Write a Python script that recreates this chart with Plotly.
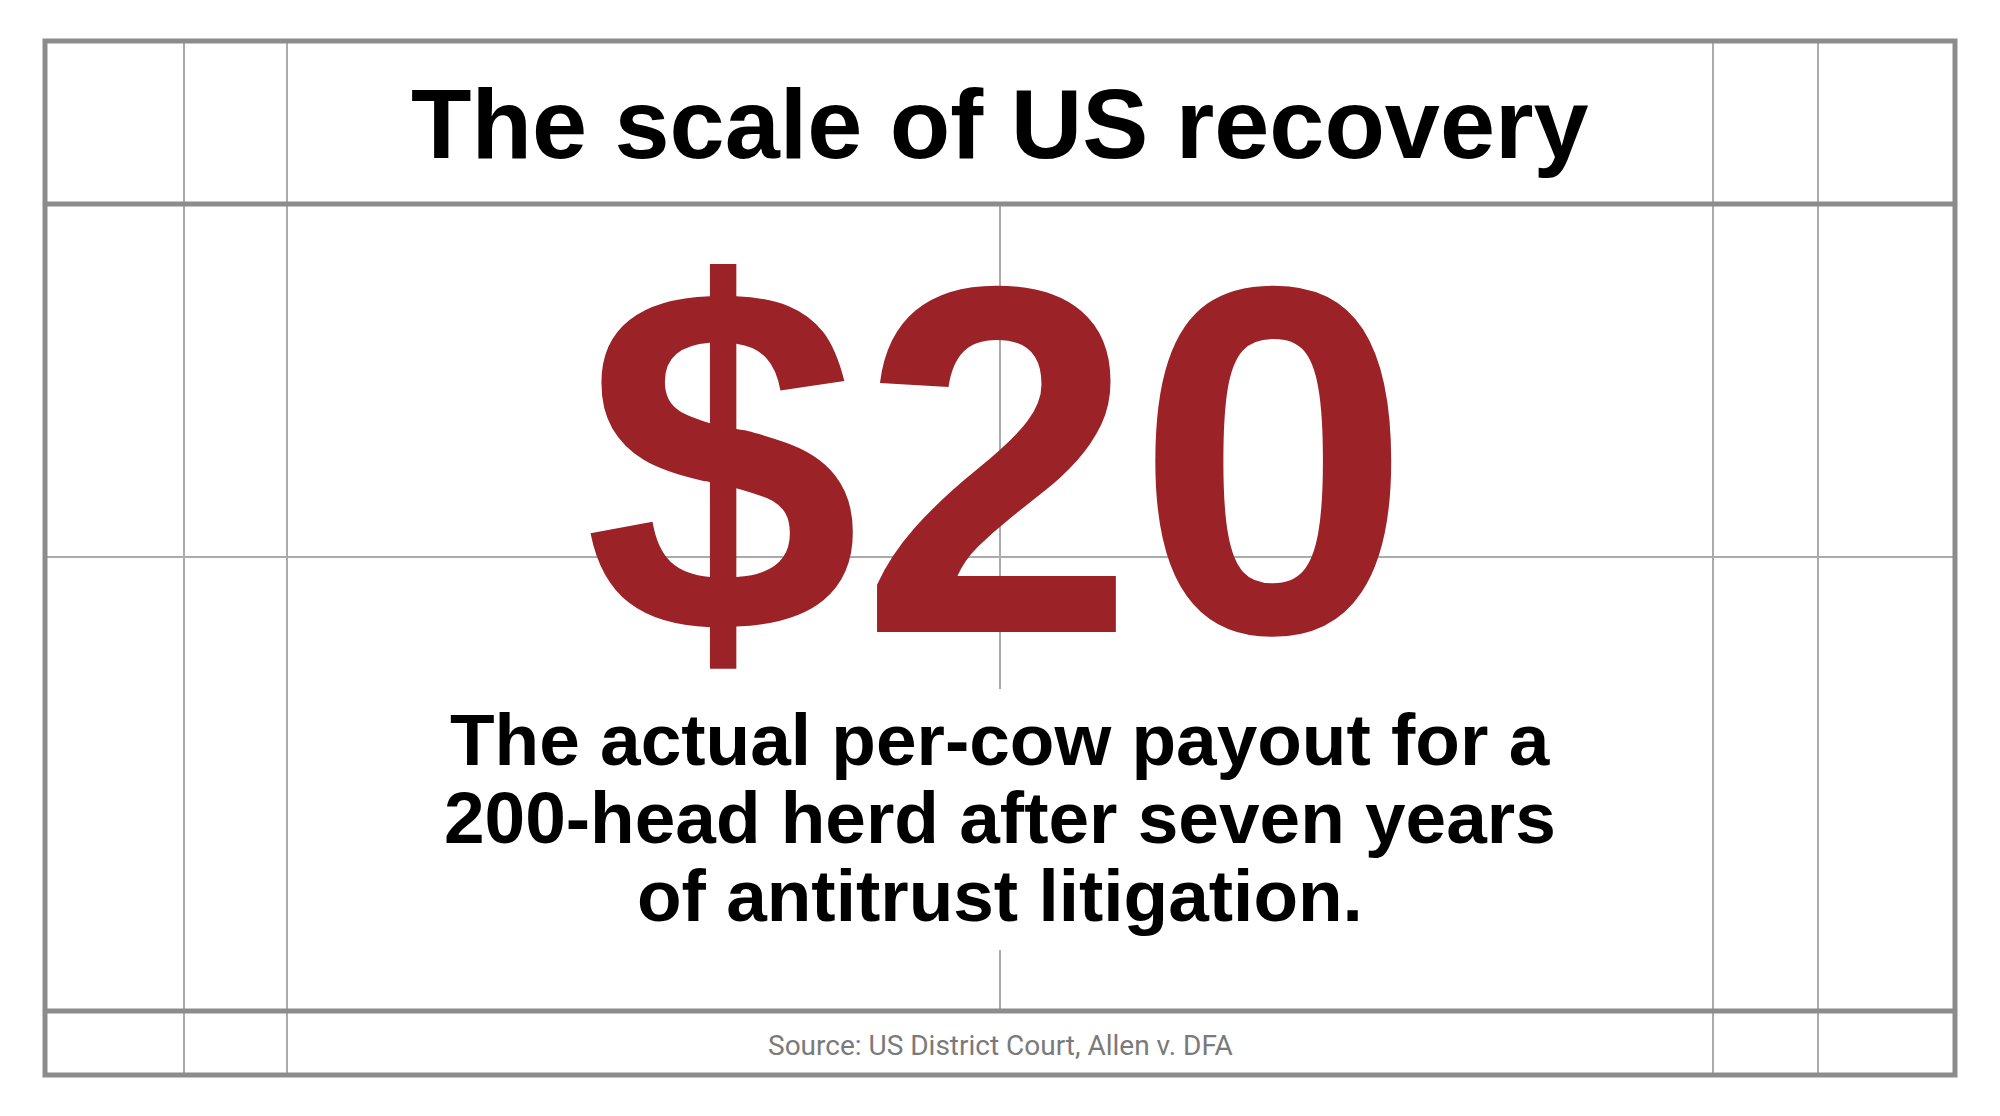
import plotly.graph_objects as go

# chart content
title_text = "The scale of US recovery"
payout_per_cow = 20
subtitle_lines = [
    "The actual per-cow payout for a",
    "200-head herd after seven years",
    "of antitrust litigation.",
]
source_text = "Source: US District Court, Allen v. DFA"

W, H = 2000, 1116
PAD = 8  # page body margin, keep the frame where the window puts it
THICK = "#8c8c8c"
THIN = "#ababab"
RED = "#9b2226"

fig = go.Figure()

# grid frame: (x0, y0, x1, y1, color, width)
frame_lines = [
    (184, 41, 184, 1075, THIN, 2),
    (287, 41, 287, 1075, THIN, 2),
    (1713, 41, 1713, 1075, THIN, 2),
    (1818, 41, 1818, 1075, THIN, 2),
    (1000, 204, 1000, 1011, THIN, 2),
    (45, 557, 1955, 557, THIN, 2),
    (45, 204, 1955, 204, THICK, 5),
    (45, 1011, 1955, 1011, THICK, 5),
]
for x0, y0, x1, y1, c, w in frame_lines:
    fig.add_shape(type="line", x0=x0, y0=y0, x1=x1, y1=y1,
                  line=dict(color=c, width=w), layer="above")
fig.add_shape(type="rect", x0=45, y0=41, x1=1955, y1=1075,
              line=dict(color=THICK, width=5), layer="above")
# white panel behind the subtitle
fig.add_shape(type="rect", x0=420, y0=689, x1=1580, y1=950,
              fillcolor="white", line=dict(width=0), layer="above")

fig.add_annotation(x=1000, y=123, text="<b>%s</b>" % title_text, showarrow=False,
                   font=dict(family="Liberation Sans", size=99, color="black"),
                   xanchor="center", yanchor="middle")

fig.add_annotation(x=998, y=460, text="<b>$%d</b>" % payout_per_cow, showarrow=False,
                   font=dict(family="Liberation Sans", size=496, color=RED),
                   xanchor="center", yanchor="middle")

for i, line in enumerate(subtitle_lines):
    fig.add_annotation(x=1000, y=739 + i * 78, text="<b>%s</b>" % line, showarrow=False,
                       font=dict(family="Liberation Sans", size=73, color="black"),
                       xanchor="center", yanchor="middle")

fig.add_annotation(x=1000, y=1045, text=source_text, showarrow=False,
                   font=dict(family="Roboto", size=28, color="#7a7a7a"),
                   xanchor="center", yanchor="middle")

fig.update_xaxes(range=[PAD, W + PAD], visible=False, fixedrange=True)
fig.update_yaxes(range=[H + PAD, PAD], visible=False, fixedrange=True)
fig.update_layout(
    width=W, height=H,
    margin=dict(t=0, l=0, r=0, b=0),
    plot_bgcolor="white",
    paper_bgcolor="white",
    showlegend=False,
)

fig.write_html("out.html")
